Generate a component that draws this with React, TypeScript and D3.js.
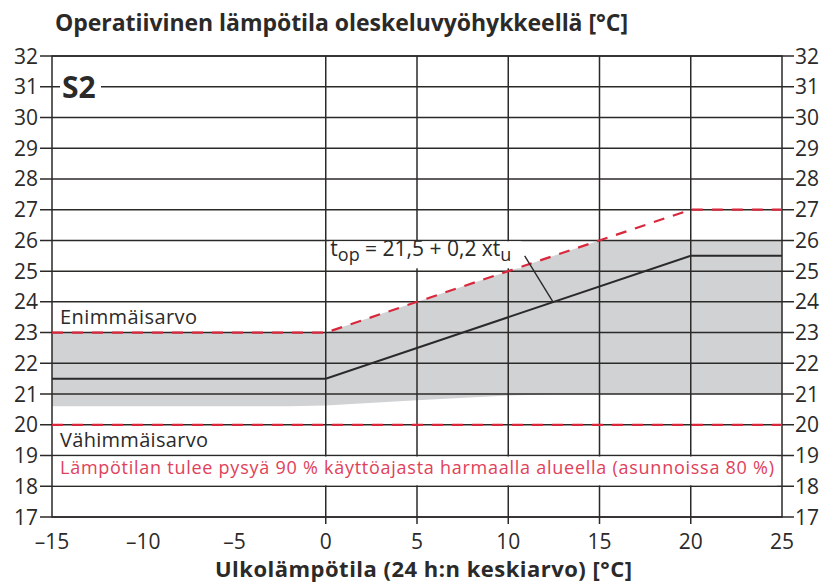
import * as d3 from "d3";
import React, { useEffect, useRef } from "react";

const yTickValues = [17, 18, 19, 20, 21, 22, 23, 24, 25, 26, 27, 28, 29, 30, 31, 32];
const xTickValues = [-15, -10, -5, 0, 5, 10, 15, 20, 25];
const xGridValues = [0, 5, 10, 15, 20];

// sallittu alue (harmaa)
const areaX = [-15, -2, 0, 5, 10, 13, 15, 25];
const areaUpper = [23, 23, 23, 24, 25, 25.6, 26, 26];
const areaLower = [20.6, 20.6, 20.63, 20.8, 20.95, 21, 21, 21];

// tavoitearvo t_op = 21,5 + 0,2 x t_u
const targetX = [-15, 0, 20, 25];
const targetY = [21.5, 21.5, 25.5, 25.5];

// enimmäisarvo ja vähimmäisarvo
const maxX = [-15, 0, 20, 25];
const maxY = [23, 23, 27, 27];
const minX = [-15, 25];
const minY = [20, 20];

const leaderX = [10.9, 12.45];
const leaderY = [25.5, 24.0];

const fmtX = (d) => (d < 0 ? "\u2013" + Math.abs(d) : String(d));

const App = () => {
  const ref = useRef();

  useEffect(() => {
    const width = 825;
    const height = 586;
    const left = 52;
    const right = 782;
    const top = 56;
    const bottom = 517;
    const ink = "#2b2a29";
    const red = "#d9273c";
    const font = "'Open Sans', 'Noto Sans', sans-serif";

    const x = d3.scaleLinear().domain([-15, 25]).range([left, right]);
    const y = d3.scaleLinear().domain([17, 32]).range([bottom, top]);

    const svg = d3.select(ref.current).attr("width", width).attr("height", height);
    svg.selectAll("*").remove();

    svg.append("rect").attr("width", width).attr("height", height).attr("fill", "#fff");

    // harmaa alue
    const area = d3
      .area()
      .x((_, i) => x(areaX[i]))
      .y0((d) => y(d))
      .y1((_, i) => y(areaUpper[i]));
    svg.append("path").datum(areaLower).attr("d", area).attr("fill", "#d1d2d4");

    // vaakaviivat + tikit molemmin puolin
    svg
      .append("g")
      .selectAll("line")
      .data(yTickValues)
      .join("line")
      .attr("x1", left - 12)
      .attr("x2", right + 12)
      .attr("y1", (d) => y(d))
      .attr("y2", (d) => y(d))
      .attr("stroke", ink)
      .attr("stroke-width", 1.5);

    // pystyviivat
    svg
      .append("g")
      .selectAll("line")
      .data(xGridValues)
      .join("line")
      .attr("x1", (d) => x(d))
      .attr("x2", (d) => x(d))
      .attr("y1", top)
      .attr("y2", bottom + 7)
      .attr("stroke", ink)
      .attr("stroke-width", 1.5);

    svg
      .append("rect")
      .attr("x", left)
      .attr("y", top)
      .attr("width", right - left)
      .attr("height", bottom - top)
      .attr("fill", "none")
      .attr("stroke", ink)
      .attr("stroke-width", 1.5);

    // S2
    svg
      .append("rect")
      .attr("x", left + 8)
      .attr("y", y(31) - 15)
      .attr("width", 41)
      .attr("height", 28)
      .attr("fill", "#fff");
    svg
      .append("text")
      .attr("x", left + 10)
      .attr("y", y(31) + 11)
      .attr("font-family", font)
      .attr("font-weight", 700)
      .attr("font-size", 30)
      .attr("fill", ink)
      .text("S2");

    // punainen ohjeteksti valkoisella pohjalla
    svg
      .append("rect")
      .attr("x", left + 1)
      .attr("y", y(19) + 1)
      .attr("width", right - left - 6)
      .attr("height", y(18) - y(19) - 2)
      .attr("fill", "#fff");
    svg
      .append("text")
      .attr("x", left + 8)
      .attr("y", y(18.4))
      .attr("font-family", font)
      .attr("font-size", 18)
      .attr("fill", "#e0415a")
      .attr("textLength", 714)
      .text("Lämpötilan tulee pysyä 90 % käyttöajasta harmaalla alueella (asunnoissa 80 %)");

    const line = d3.line();

    // vähimmäis- ja enimmäisarvo
    svg
      .append("path")
      .attr("d", line(minX.map((d, i) => [x(d), y(minY[i])])))
      .attr("fill", "none")
      .attr("stroke", red)
      .attr("stroke-width", 2.2)
      .attr("stroke-dasharray", "11,9");
    svg
      .append("path")
      .attr("d", line(maxX.map((d, i) => [x(d), y(maxY[i])])))
      .attr("fill", "none")
      .attr("stroke", red)
      .attr("stroke-width", 2.2)
      .attr("stroke-dasharray", "11,9");

    // tavoitekäyrä
    svg
      .append("path")
      .attr("d", line(targetX.map((d, i) => [x(d), y(targetY[i])])))
      .attr("fill", "none")
      .attr("stroke", "#2a2a2a")
      .attr("stroke-width", 2);

    // kaavan selite
    svg
      .append("rect")
      .attr("x", x(0.2))
      .attr("y", y(25.97))
      .attr("width", 192)
      .attr("height", 27)
      .attr("fill", "#fff");
    const formula = svg
      .append("text")
      .attr("x", x(0.25))
      .attr("y", y(25.5))
      .attr("font-family", font)
      .attr("font-size", 21)
      .attr("fill", ink);
    formula.append("tspan").text("t");
    formula.append("tspan").attr("dy", 5).attr("font-size", 18).text("op");
    formula.append("tspan").attr("dy", -5).text(" = 21,5 + 0,2 xt");
    formula.append("tspan").attr("dy", 5).attr("font-size", 18).text("u");
    svg
      .append("path")
      .attr("d", line(leaderX.map((d, i) => [x(d), y(leaderY[i])])))
      .attr("stroke", ink)
      .attr("stroke-width", 1.4);

    svg
      .append("text")
      .attr("x", left + 8)
      .attr("y", y(23.27))
      .attr("font-family", font)
      .attr("font-size", 20)
      .attr("textLength", 137)
      .attr("fill", ink)
      .text("Enimmäisarvo");
    svg
      .append("text")
      .attr("x", left + 8)
      .attr("y", y(19.28))
      .attr("font-family", font)
      .attr("font-size", 20)
      .attr("textLength", 148)
      .attr("fill", ink)
      .text("Vähimmäisarvo");

    // akselien numerot
    svg
      .append("g")
      .selectAll("text")
      .data(yTickValues)
      .join("text")
      .attr("x", left - 14)
      .attr("y", (d) => y(d) + 7.5)
      .attr("text-anchor", "end")
      .attr("font-family", font)
      .attr("font-size", 21)
      .attr("fill", ink)
      .text((d) => d);
    svg
      .append("g")
      .selectAll("text")
      .data(yTickValues)
      .join("text")
      .attr("x", right + 13)
      .attr("y", (d) => y(d) + 7.5)
      .attr("font-family", font)
      .attr("font-size", 21)
      .attr("fill", ink)
      .text((d) => d);
    svg
      .append("g")
      .selectAll("text")
      .data(xTickValues)
      .join("text")
      .attr("x", (d) => x(d))
      .attr("y", bottom + 32)
      .attr("text-anchor", "middle")
      .attr("font-family", font)
      .attr("font-size", 21)
      .attr("fill", ink)
      .text(fmtX);

    svg
      .append("text")
      .attr("x", 55)
      .attr("y", 31)
      .attr("font-family", font)
      .attr("font-weight", 700)
      .attr("font-size", 23)
      .attr("textLength", 573)
      .attr("fill", ink)
      .text("Operatiivinen lämpötila oleskeluvyöhykkeellä [°C]");
    svg
      .append("text")
      .attr("x", 215)
      .attr("y", 577)
      .attr("font-family", font)
      .attr("font-weight", 700)
      .attr("font-size", 22)
      .attr("textLength", 417)
      .attr("fill", ink)
      .text("Ulkolämpötila (24 h:n keskiarvo) [°C]");
  }, []);

  return <svg ref={ref} style={{ position: "absolute", left: 0, top: 0 }} />;
};

export default App;
